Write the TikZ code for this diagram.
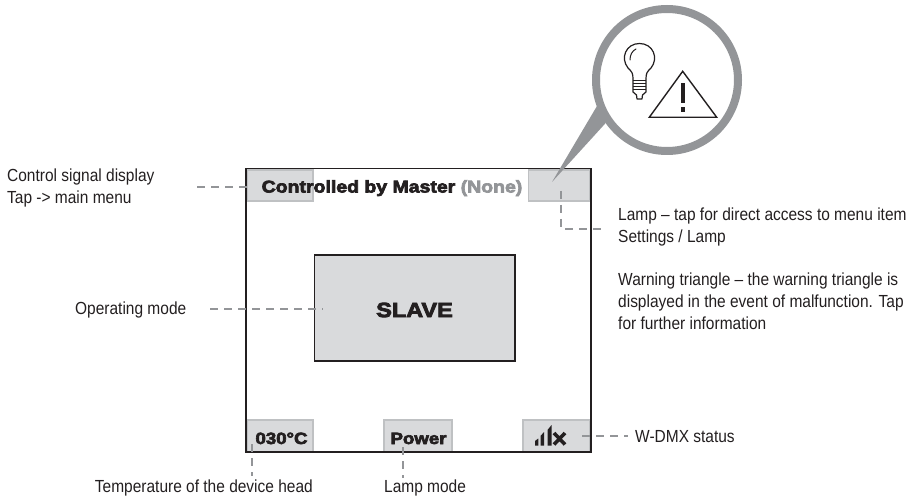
\documentclass[tikz,border=0pt]{standalone}
\usepackage{fontspec}
\setmainfont[FakeStretch=0.885]{Liberation Sans}
\newfontfamily\blackfont[FakeStretch=1.145,FakeBold=4]{Liberation Sans Bold}
\definecolor{ink}{HTML}{231F20}
\definecolor{panel}{HTML}{D9DADC}
\definecolor{panelline}{HTML}{BFC1C3}
\definecolor{ring}{HTML}{939598}
\tikzset{
  softbox/.style={draw=panelline,fill=panel,line width=1.2pt,inner sep=0pt},
  lead/.style={draw=ring,line width=2.6pt,dash pattern=on 8pt off 6pt},
  lbl/.style={inner sep=0pt,text=ink,align=left,font=\fontsize{17.5}{22}\selectfont},
  heavy/.style={inner sep=0pt,text=ink,font=\blackfont\fontsize{17}{20}\selectfont},
  heavysmall/.style={inner sep=0pt,text=ink,font=\blackfont\fontsize{16.3}{20}\selectfont},
}
\begin{document}
\begin{tikzpicture}[x=1pt,y=-1pt]
\useasboundingbox (0,0) rectangle (919,497);
% panels
\path[softbox] (247,170) rectangle (313,201);
\path[softbox] (528.5,170) rectangle (590,201);
\path[softbox] (247,420) rectangle (313,452);
\path[softbox] (384,420) rectangle (452,452);
\path[softbox] (523,420) rectangle (590,452);
% frame
\draw[ink,line width=1.7pt] (246,168.5) rectangle (590.7,452);
\draw[ink,fill=panel,line width=1.7pt] (314.5,255) rectangle (515,360.7);
% texts in display
\node[heavy,anchor=base west] (title) at (261.5,192.5) {Controlled by Master \textcolor{ring}{(None)}};
\node[heavy,font=\blackfont\fontsize{20.5}{24}\selectfont] (slave) at (414.5,310) {SLAVE};
\node[heavysmall,anchor=base] (temp) at (281.5,444) {030°C};
\node[heavysmall,anchor=base] (power) at (418.5,444) {Power};
% W-DMX icon
\fill[ink] (535,441) -- (535,445.5) -- (538.3,445.5) -- (538.3,438.5) -- cycle;
\fill[ink] (540.5,436) -- (540.5,445.5) -- (544,445.5) -- (544,432) -- cycle;
\fill[ink] (547.5,430) -- (547.5,445.5) -- (551.5,445.5) -- (551.5,425) -- cycle;
\draw[ink,line width=3.6pt] (554,433) -- (565,444.5) (565,433) -- (554,444.5);
% callout
\fill[ring] (552,182) -- (597,106) -- (605.7,123) -- cycle;
\draw[ring,line width=8pt,fill=white] (667,80) circle (71);
% bulb
\draw[ink,line width=1.2pt,line join=round] (633,79) .. controls (633,73) and (632,72) .. (628,68)
  .. controls (620,58) and (626,43.5) .. (639.5,43.5)
  .. controls (653,43.5) and (659,58) .. (651,68)
  .. controls (647,72) and (646,73) .. (646,79)
  -- (646,92) -- (642.5,95) -- (642,99) -- (637,99) -- (636.5,95) -- (633,92) -- cycle;
\draw[ink,line width=1pt] (633,81) -- (646,81) (633,84) -- (646,84) (633,87) -- (646,87) (633,90) -- (646,90);
\draw[ink,line width=1pt,line cap=round] (630,60) .. controls (630,55) and (632,51) .. (636,49);
% triangle
\draw[ink,line width=1.4pt,line join=miter] (682.7,71.3) -- (716.7,117.3) -- (649.3,117.3) -- cycle;
\fill[ink] (680.9,82.7) rectangle (684.5,103.3);
\fill[ink] (680.9,106.7) rectangle (684.5,111.7);
% labels
\node[lbl,anchor=base west] (lcontrol) at (7,204) {Control signal display\\Tap -> main menu};
\node[lbl,anchor=base west] (lop) at (75,315) {Operating mode};
\node[lbl,anchor=base east] (ltemp) at (313,492) {Temperature of the device head};
\node[lbl,anchor=base west] (lmode) at (384,492) {Lamp mode};
\node[lbl,anchor=base west] (lwdmx) at (635,442) {W-DMX status};
\node[lbl,anchor=base west] (llamp) at (618,243) {Lamp – tap for direct access to menu item\\Settings / Lamp};
\node[lbl,anchor=base west] (lwarn) at (618,330) {Warning triangle – the warning triangle is\\displayed in the event of malfunction. Tap\\for further information};
% connector ends
\coordinate (c1) at (197,187);
\coordinate (c2) at (251,187);
\coordinate (o1) at (210,309);
\coordinate (o2) at (323,309);
\coordinate (t1) at (252,444);
\coordinate (t2) at (252,476);
\coordinate (p1) at (403,447);
\coordinate (p2) at (403,478);
\coordinate (w1) at (582,436);
\coordinate (w2) at (628,436);
\coordinate (a1) at (561,191);
\coordinate (a2) at (561,229);
\coordinate (a3) at (604,229);
\draw[lead] (c1) -- (c2);
\draw[lead] (o1) -- (o2);
\draw[lead] (t1) -- (t2);
\draw[lead] (p1) -- (p2);
\draw[lead] (w1) -- (w2);
\draw[lead] (a1) -- (a2) -- (a3);
\end{tikzpicture}
\end{document}
